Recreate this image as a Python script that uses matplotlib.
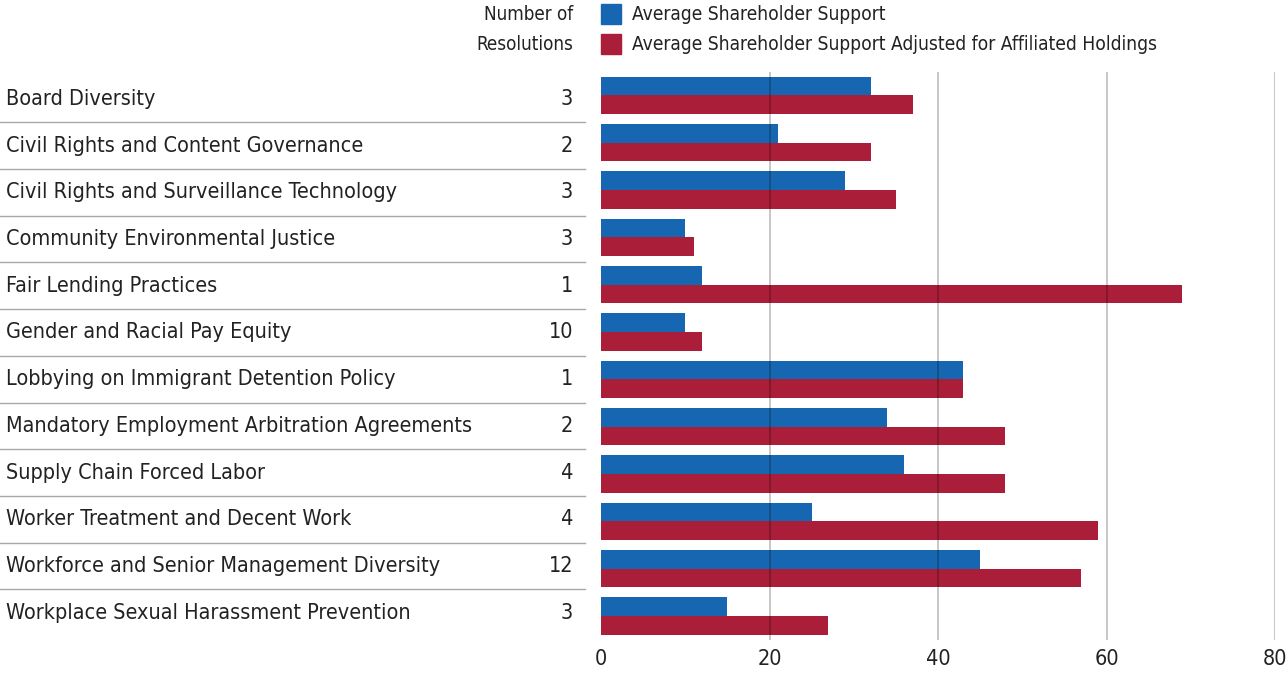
import matplotlib
matplotlib.use("Agg")
from matplotlib import pyplot as plt
from matplotlib.patches import Rectangle
import numpy as np


# =============================================================================
# Data
# =============================================================================
categories = ['Board Diversity', 'Civil Rights and Content Governance',
    'Civil Rights and Surveillance Technology',
    'Community Environmental Justice', 'Fair Lending Practices',
    'Gender and Racial Pay Equity', 'Lobbying on Immigrant Detention Policy',
    'Mandatory Employment Arbitration Agreements',
    'Supply Chain Forced Labor', 'Worker Treatment and Decent Work',
    'Workforce and Senior Management Diversity',
    'Workplace Sexual Harassment Prevention']
n_resolutions = [3, 2, 3, 3, 1, 10, 1, 2, 4, 4, 12, 3]
support = [32, 21, 29, 10, 12, 10, 43, 34, 36, 25, 45, 15]
support_adj = [37, 32, 35, 11, 69, 12, 43, 48, 48, 59, 57, 27]
xticks = [0, 20, 40, 60, 80]
legend_labels = ['Average Shareholder Support',
    'Average Shareholder Support Adjusted for Affiliated Holdings']


# =============================================================================
# Plot parameters
# =============================================================================
plt.rcParams['font.family'] = ['DejaVu Sans']
plt.rcParams['font.stretch'] = 'condensed'
fontsize = 15.5
small_fontsize = 13.5
legend_fontsize = 13.8
blue = '#1766b1'
red = '#aa1e3a'
text_col = '#222222'
W, H = 1286, 675


# =============================================================================
# Plot
# =============================================================================
fig = plt.figure(figsize=(W / 100, H / 100), dpi=100)
ax = fig.add_axes([601 / W, 1 - 639.6 / H, 674 / W, 567.8 / H])

y = np.arange(len(categories))
h = 0.395
ax.barh(y - h/2, support, height=h, color=blue, zorder=2)
ax.barh(y + h/2, support_adj, height=h, color=red, zorder=2)

for x in xticks[1:]:
    ax.axvline(x, color='black', alpha=0.22, linewidth=1.4, zorder=3)

ax.set_xlim(0, 80)
ax.set_ylim(len(categories) - 0.5, -0.5)
ax.set_yticks([])
ax.set_xticks(xticks)
ax.set_xticklabels([str(v) for v in xticks], fontsize=fontsize,
    color=text_col)
ax.tick_params(axis='x', length=0, pad=7)
for sp in ax.spines.values():
    sp.set_visible(False)

# Row labels, counts and separators (left table, figure coordinates)
row0, pitch = 99, 46.7
for i, (cat, n) in enumerate(zip(categories, n_resolutions)):
    yc = 1 - (row0 + pitch * i) / H
    fig.text(6 / W, yc, cat, ha='left', va='center', fontsize=fontsize,
        color=text_col)
    fig.text(573 / W, yc, str(n), ha='right', va='center',
        fontsize=fontsize, color=text_col)
    if i < len(categories) - 1:
        ys = 1 - (row0 + pitch * (i + 0.5)) / H
        fig.lines.append(plt.Line2D([0, 585 / W], [ys, ys],
            transform=fig.transFigure, color='#a8a8a8', linewidth=1.0))

# Header
fig.text(573 / W, 1 - 15 / H, 'Number of', ha='right', va='center',
    fontsize=small_fontsize, color=text_col)
fig.text(573 / W, 1 - 45 / H, 'Resolutions', ha='right', va='center',
    fontsize=small_fontsize, color=text_col)

# Legend
for k, (lab, col) in enumerate(zip(legend_labels, [blue, red])):
    yc = 14 + k * 30
    fig.patches.append(Rectangle((601 / W, 1 - (yc + 10) / H), 20 / W,
        20 / H, transform=fig.transFigure, color=col, figure=fig))
    fig.text(632 / W, 1 - yc / H, lab, ha='left', va='center',
        fontsize=legend_fontsize, color=text_col)

fig.savefig('out.png', dpi=100)
plt.close()
